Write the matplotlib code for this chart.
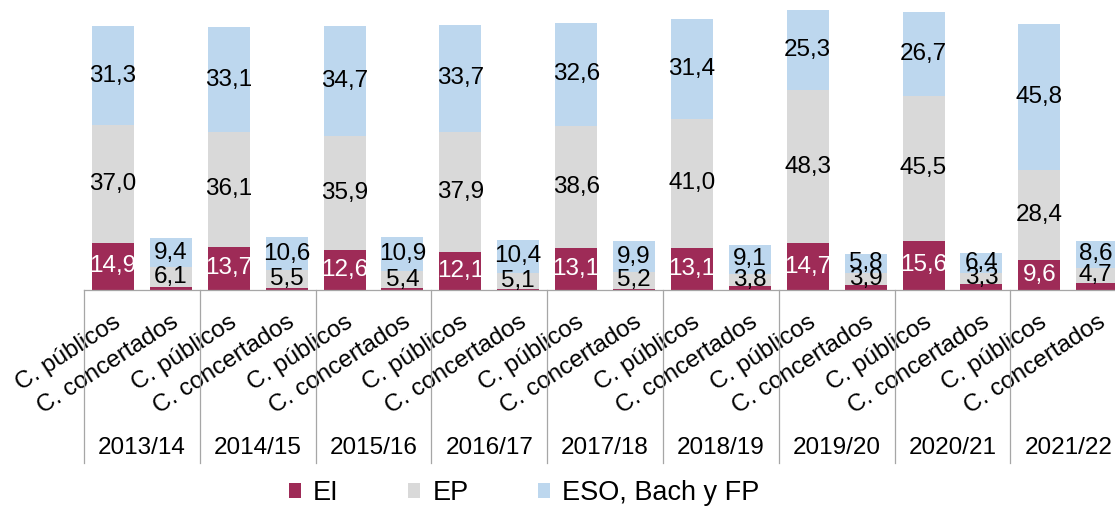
import matplotlib
matplotlib.use("Agg")
import matplotlib.pyplot as plt
import matplotlib.transforms as mtransforms
from matplotlib.patches import Patch
from matplotlib.lines import Line2D

plt.rcParams["font.family"] = ["Liberation Sans", "DejaVu Sans"]

# data (%)
years = ["2013/14", "2014/15", "2015/16", "2016/17", "2017/18",
         "2018/19", "2019/20", "2020/21", "2021/22"]
centres = ["C. públicos", "C. concertados"]

ei_pub = [14.9, 13.7, 12.6, 12.1, 13.1, 13.1, 14.7, 15.6, 9.6]
ep_pub = [37.0, 36.1, 35.9, 37.9, 38.6, 41.0, 48.3, 45.5, 28.4]
eso_pub = [31.3, 33.1, 34.7, 33.7, 32.6, 31.4, 25.3, 26.7, 45.8]

ei_conc = [1.0, 0.7, 0.5, 0.4, 0.4, 1.3, 1.6, 2.0, 2.3]  # not labelled in source
ep_conc = [6.1, 5.5, 5.4, 5.1, 5.2, 3.8, 3.9, 3.3, 4.7]
eso_conc = [9.4, 10.6, 10.9, 10.4, 9.9, 9.1, 5.8, 6.4, 8.6]

series_names = ["EI", "EP", "ESO, Bach y FP"]
colors = ["#9E2B57", "#D9D9D9", "#BDD7EE"]


def fmt(v):
    return f"{v:.1f}".replace(".", ",")


# interleave públicos / concertados
ei, ep, eso, labels = [], [], [], []
for i in range(len(years)):
    ei += [ei_pub[i], ei_conc[i]]
    ep += [ep_pub[i], ep_conc[i]]
    eso += [eso_pub[i], eso_conc[i]]
    labels += centres

x = list(range(len(labels)))
W, H = 1115, 516
fig = plt.figure(figsize=(W / 100, H / 100), dpi=100)
ax = fig.add_axes([84 / W, 1 - 290 / H, 1 - 84 / W, 290 / H])

width = 0.725
b1 = ax.bar(x, ei, width, color=colors[0])
bottom2 = [a for a in ei]
b2 = ax.bar(x, ep, width, bottom=bottom2, color=colors[1])
bottom3 = [a + b for a, b in zip(ei, ep)]
b3 = ax.bar(x, eso, width, bottom=bottom3, color=colors[2])

fs = 17.5
ax.bar_label(b1, labels=[fmt(v) if i % 2 == 0 else "" for i, v in enumerate(ei)],
             label_type="center", color="white", fontsize=fs)
ax.bar_label(b2, labels=[fmt(v) for v in ep], label_type="center", color="black", fontsize=fs)
ax.bar_label(b3, labels=[fmt(v) for v in eso], label_type="center", color="black", fontsize=fs)

ax.set_xlim(-0.5, (W - 84) / 57.9 - 0.5)
ax.set_ylim(0, 290 / 3.17)
ax.set_yticks([])
for s in ["top", "right", "left"]:
    ax.spines[s].set_visible(False)
ax.spines["bottom"].set_color("#A6A6A6")
ax.spines["bottom"].set_linewidth(0.9)

ax.set_xticks([v + 0.1 for v in x])
ax.set_xticklabels(labels, rotation=33, ha="right", va="center",
                   rotation_mode="anchor", fontsize=fs)
ax.tick_params(axis="x", length=0, pad=22)

# year labels and group separators
trans = mtransforms.blended_transform_factory(ax.transData, fig.transFigure)
for i, yr in enumerate(years):
    ax.text(2 * i + 0.5, 1 - 448 / H, yr, transform=trans, ha="center",
            va="center", fontsize=fs, clip_on=False)
for k in range(len(years)):
    ax.add_line(Line2D([2 * k - 0.5, 2 * k - 0.5], [1 - 290 / H, 1 - 463 / H],
                       transform=trans, color="#A6A6A6", lw=0.9, clip_on=False))

handles = [Patch(facecolor=c, label=n) for c, n in zip(colors, series_names)]
fig.legend(handles=handles, loc="center", bbox_to_anchor=(524 / W, 1 - 493 / H),
           ncol=3, frameon=False, fontsize=19.5, handlelength=0.45, handleheight=0.45,
           handletextpad=0.45, columnspacing=2.55)

fig.savefig("out.png", dpi=100)
